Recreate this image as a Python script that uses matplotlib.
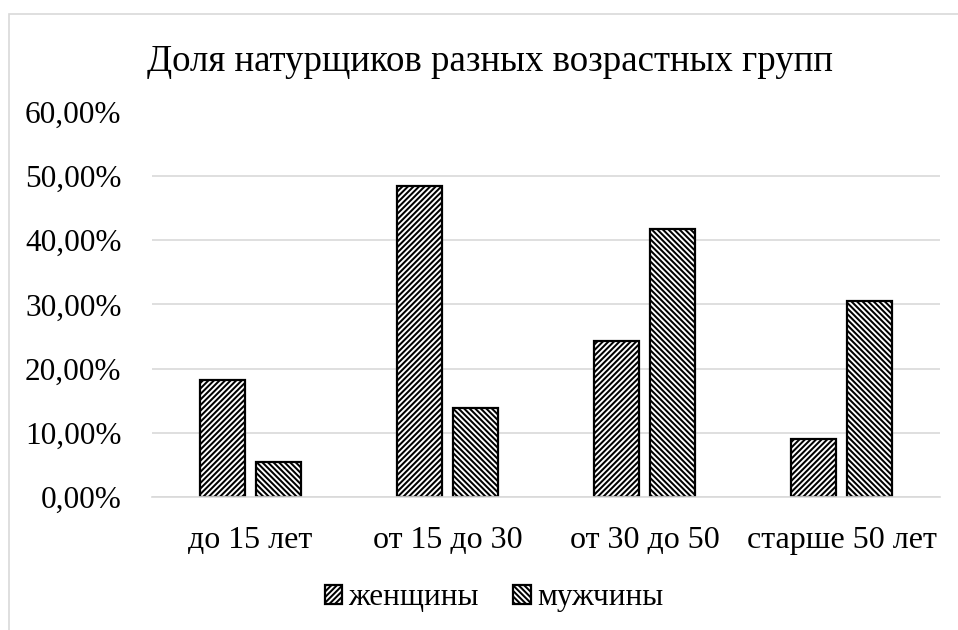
import matplotlib
matplotlib.use("Agg")
import matplotlib.pyplot as plt
import numpy as np
from matplotlib.patches import Rectangle, Patch
from matplotlib.ticker import FuncFormatter

categories = ["до 15 лет", "от 15 до 30", "от 30 до 50", "старше 50 лет"]
women = [0.1818, 0.4848, 0.2424, 0.0909]
men = [0.0556, 0.1389, 0.4167, 0.3056]
series_labels = ["женщины", "мужчины"]
title = "Доля натурщиков разных возрастных групп"

plt.rcParams["font.family"] = ["Liberation Serif", "DejaVu Serif"]
plt.rcParams["hatch.linewidth"] = 1.45
plt.rcParams["hatch.color"] = "black"

GRID = "#d9d9d9"
FS = 22.5
HATCH_W = "//////"
HATCH_M = "\\\\\\\\\\\\"

fig = plt.figure(figsize=(9.58, 6.30), dpi=100)
ax = fig.add_axes([152 / 958, 1 - 497.3 / 630, (940 - 152) / 958, (497.3 - 111.5) / 630])

# chart area border (clipped on the right and bottom as in the source)
fig.patches.append(Rectangle((8.5 / 958, -0.1), 1.2, 1 - 14 / 630 + 0.1,
                             transform=fig.transFigure, fill=False,
                             edgecolor=GRID, linewidth=1.2))

x = np.arange(len(categories))
w = 0.231
gap = 0.053
ax.bar(x - (w + gap) / 2, women, w, color="white", edgecolor="black",
       linewidth=1.6, hatch=HATCH_W, zorder=3)
ax.bar(x + (w + gap) / 2, men, w, color="white", edgecolor="black",
       linewidth=1.6, hatch=HATCH_M, zorder=3)

ax.set_xlim(-0.5, len(categories) - 0.5)
ax.set_ylim(0, 0.6)
ax.set_yticks(np.arange(0, 0.61, 0.1))
ax.yaxis.set_major_formatter(FuncFormatter(lambda v, p: f"{v * 100:.2f}%".replace(".", ",")))
ax.set_xticks(x)
ax.set_xticklabels(categories)
ax.tick_params(axis="both", length=0, labelsize=FS)
ax.tick_params(axis="x", labelsize=23, pad=21)
ax.tick_params(axis="y", pad=22)

ax.grid(axis="y", color=GRID, linewidth=1.2, zorder=0)
for side in ["top", "right", "left"]:
    ax.spines[side].set_visible(False)
ax.spines["bottom"].set_color(GRID)
ax.spines["bottom"].set_linewidth(1.2)
ax.spines["bottom"].set_zorder(4)

fig.text(490 / 958, 1 - 62 / 630, title, ha="center", va="center", fontsize=26.6)

handles = [Patch(facecolor="white", edgecolor="black", hatch=HATCH_W, linewidth=1.6),
           Patch(facecolor="white", edgecolor="black", hatch=HATCH_M, linewidth=1.6)]
fig.legend(handles, series_labels, loc="center", bbox_to_anchor=(494 / 958, 1 - 598 / 630),
           ncol=2, frameon=False, fontsize=FS, handlelength=0.55, handleheight=0.55,
           handletextpad=0.2, columnspacing=1.1)

fig.savefig("out.png", dpi=100)
